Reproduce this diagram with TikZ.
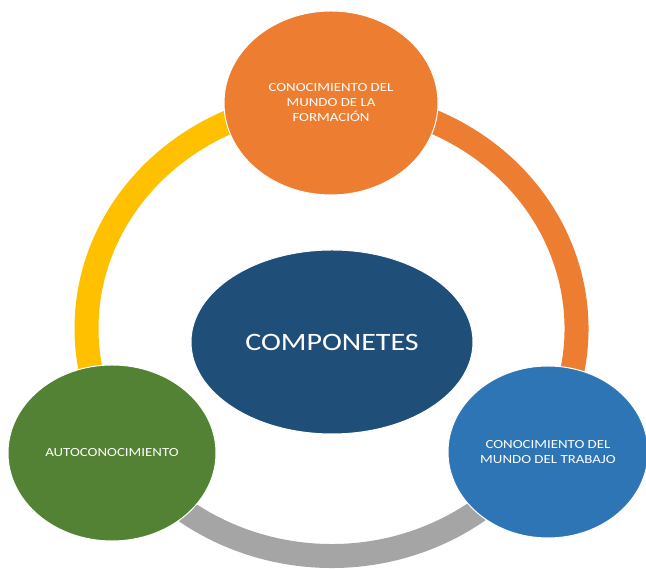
\documentclass[tikz,border=0pt]{standalone}
\usepackage{fontspec}
\setmainfont{Carlito}[FakeStretch=1.2]
\usetikzlibrary{shapes.geometric,calc}

\definecolor{orangeacc}{HTML}{ED7D31}
\definecolor{yellowacc}{HTML}{FFC000}
\definecolor{grayacc}{HTML}{A5A5A5}
\definecolor{greenacc}{HTML}{548235}
\definecolor{blueacc}{HTML}{2E75B6}
\definecolor{navyacc}{HTML}{1F4E79}

\begin{document}
\begin{tikzpicture}[x=1pt,y=1pt]
        \tikzstyle{every node}=[font=\fontsize{12.4}{15}\selectfont, text=white, align=center]
        \tikzstyle{ringline}=[line width=24pt]
        \tikzstyle{bubble}=[ellipse, draw=white, line width=1pt, inner sep=0pt]
        \useasboundingbox (0,0) rectangle (646,569);

        % the ring behind the bubbles
        \coordinate (ring) at (331.5,240.5);
        \coordinate (ringtop) at (331.5,468);
        \coordinate (ringleft) at ($(ring)+(210:245 and 227.5)$);
        \coordinate (ringright) at ($(ring)+(330:245 and 227.5)$);
        \draw[ringline,yellowacc] (ringtop) arc[start angle=90, end angle=210, x radius=245, y radius=227.5];
        \draw[ringline,grayacc] (ringleft) arc[start angle=210, end angle=330, x radius=245, y radius=227.5];
        \draw[ringline,orangeacc] (ringright) arc[start angle=-30, end angle=90, x radius=245, y radius=227.5];

        % bubbles
        \node[bubble, fill=navyacc, minimum width=282, minimum height=184,
              font=\fontsize{25}{30}\selectfont] (componetes) at (332,227) {COMPONETES};
        \node[bubble, fill=orangeacc, minimum width=214, minimum height=184] (formacion) at (331,466)
              {CONOCIMIENTO DEL\\MUNDO DE LA\\FORMACIÓN};
        \node[bubble, fill=greenacc, minimum width=208, minimum height=176] (auto) at (112,116)
              {AUTOCONOCIMIENTO};
        \node[bubble, fill=blueacc, minimum width=200, minimum height=172] (trabajo) at (548,117)
              {CONOCIMIENTO DEL\\MUNDO DEL TRABAJO};
\end{tikzpicture}
\end{document}
